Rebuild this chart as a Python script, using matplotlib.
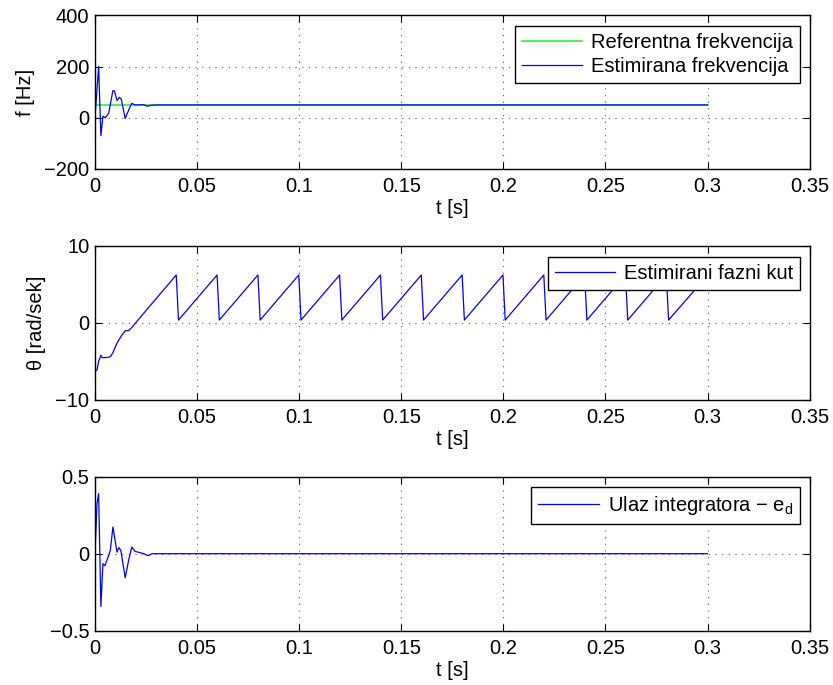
import matplotlib
matplotlib.use("Agg")
import matplotlib.pyplot as plt

plt.rcParams['font.family'] = ['Liberation Sans', 'DejaVu Sans']
plt.rcParams['font.size'] = 14.5
plt.rcParams['mathtext.fontset'] = 'custom'
plt.rcParams['mathtext.rm'] = 'Liberation Sans'
plt.rcParams['mathtext.it'] = 'Liberation Sans'

# frekvencija (estimirana), Hz
f_t = [0, 0.0018, 0.0029, 0.0039, 0.0050, 0.0067, 0.0088, 0.0096, 0.0108, 0.0120,
       0.0129, 0.0148, 0.0165, 0.0180, 0.0197, 0.0238, 0.0258, 0.0270, 0.0300, 0.3]
f_est = [0, 200, -70, 6, 0, 17, 106, 104, 67, 80,
         72, -3, 30, 56, 50, 51, 45, 48, 50, 50]
f_ref_t = [0, 0.3]
f_ref = [50, 50]

# fazni kut, rad
th_t = [0, 0.001, 0.0018, 0.0029, 0.0036, 0.005, 0.0075, 0.0088, 0.0108, 0.0132,
        0.0149, 0.0165, 0.018, 0.0222, 0.0398,
        0.0409, 0.0598, 0.0609, 0.0798, 0.0809, 0.0998, 0.1009, 0.1198,
        0.1209, 0.1398, 0.1409, 0.1598, 0.1609, 0.1798, 0.1809, 0.1998,
        0.2009, 0.2198, 0.2209, 0.2398, 0.2409, 0.2598, 0.2609, 0.2798,
        0.2809, 0.3]
th = [-6.3, -6.1, -5.0, -4.2, -4.5, -4.5, -4.4, -3.85, -2.6, -1.56,
      -1.0, -1.0, -0.6, 0.74, 6.23,
      0.38, 6.23, 0.38, 6.23, 0.38, 6.23, 0.38, 6.23,
      0.38, 6.23, 0.38, 6.23, 0.38, 6.23, 0.38, 6.23,
      0.38, 6.23, 0.38, 6.23, 0.38, 6.23, 0.38, 6.23,
      0.38, 6.2]

# ulaz integratora e_d
e_t = [0, 0.001, 0.0018, 0.0029, 0.0039, 0.0049, 0.0062, 0.0075, 0.0088, 0.0108,
       0.0117, 0.0127, 0.0148, 0.0165, 0.018, 0.0197, 0.024, 0.026, 0.028, 0.3]
e_d = [0, 0.325, 0.39, -0.342, -0.065, -0.078, -0.03, 0.02, 0.173, 0.01,
       0.04, 0.02, -0.156, -0.043, 0.043, 0.015, 0, -0.013, 0, 0]

fig = plt.figure(figsize=(8.33, 6.85), dpi=100)
ax1 = fig.add_axes([0.114, 0.7533, 0.858, 0.2244])
ax2 = fig.add_axes([0.114, 0.4161, 0.858, 0.2248])
ax3 = fig.add_axes([0.114, 0.0793, 0.858, 0.2248])


def style(ax, yticks, ylabel):
    ax.set_xlim(0, 0.35)
    ax.set_xticks([0, 0.05, 0.1, 0.15, 0.2, 0.25, 0.3, 0.35])
    ax.set_xticklabels(['0', '0.05', '0.1', '0.15', '0.2', '0.25', '0.3', '0.35'])
    ax.set_ylim(yticks[0], yticks[-1])
    ax.set_yticks(yticks)
    ax.set_yticklabels([str(v).replace('-', '\u2212') for v in yticks])
    ax.grid(True, linestyle=(0, (1, 5)), color='0.35', linewidth=0.8)
    ax.tick_params(direction='in', top=True, right=True, length=5, width=0.8)
    ax.tick_params(axis='x', pad=6)
    ax.tick_params(axis='y', pad=4)
    for s in ax.spines.values():
        s.set_linewidth(1.0)
    ax.set_xlabel('t [s]', labelpad=2)
    ax.set_ylabel(ylabel, labelpad=7)


style(ax1, [-200, 0, 200, 400], 'f [Hz]')
ax1.plot(f_ref_t, f_ref, color='#33ee33', lw=1.2, label='Referentna frekvencija')
ax1.plot(f_t, f_est, color='#0000ff', lw=0.9, label='Estimirana frekvencija')

style(ax2, [-10, 0, 10], '\u03b8 [rad/sek]')
ax2.plot(th_t, th, color='#0000ff', lw=0.9, label='Estimirani fazni kut')

style(ax3, [-0.5, 0, 0.5], '')
ax3.plot(e_t, e_d, color='#0000ff', lw=0.9, label='Ulaz integratora \u2212 e$_\\mathrm{d}$')

for ax, top in [(ax1, 0.932), (ax2, 0.929), (ax3, 0.933)]:
    leg = ax.legend(loc='upper right', bbox_to_anchor=(0.987, top), borderaxespad=0,
                    fancybox=False, framealpha=1, edgecolor='black', handlelength=3.0,
                    handletextpad=0.45, borderpad=0.35, labelspacing=0.25)
    leg.get_frame().set_linewidth(1.0)

fig.savefig('out.png', dpi=100)
